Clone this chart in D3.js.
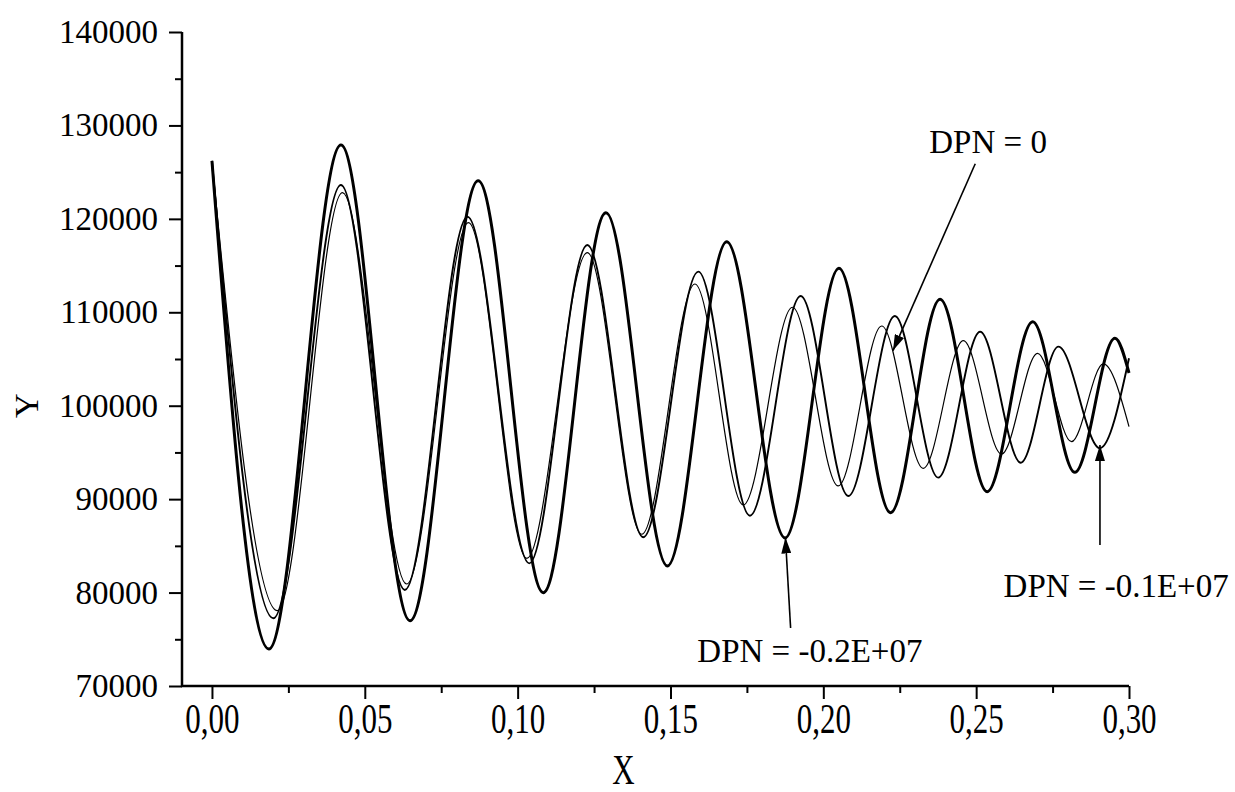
<!DOCTYPE html>
<html>
<head>
<meta charset="utf-8">
<script src="https://cdn.jsdelivr.net/npm/d3@7"></script>
<style>
  body { margin: 0; background: #fff; }
  text { font-family: "Liberation Serif", "Times New Roman", serif; fill: #000; }
</style>
</head>
<body>
<div id="chart"></div>
<script>
// curve extrema (x, y)
var dpn0X = [0, 0.0214, 0.0427, 0.0637, 0.0839, 0.1030, 0.1228, 0.1406, 0.1580, 0.1738, 0.1899, 0.2049, 0.2191, 0.2327, 0.2458, 0.2583, 0.2701, 0.2812, 0.2916, 0.30];
var dpn0Y = [126200, 78060, 122800, 80920, 119590, 83670, 116380, 86240, 113030, 89380, 110540, 91410, 108530, 93300, 106960, 94830, 105610, 96150, 104470, 97760];

var dpn1X = [0, 0.0201, 0.0422, 0.0631, 0.0836, 0.1038, 0.1228, 0.1411, 0.1591, 0.1760, 0.1926, 0.2082, 0.2234, 0.2376, 0.2513, 0.2646, 0.2769, 0.2905, 0.30];
var dpn1Y = [126200, 77250, 123620, 80280, 120230, 83130, 117200, 85920, 114350, 88230, 111740, 90340, 109600, 92300, 107920, 93900, 106320, 95450, 105080];

var dpn2X = [0, 0.0186, 0.0422, 0.0648, 0.0871, 0.1084, 0.1289, 0.1490, 0.1684, 0.1875, 0.2051, 0.2220, 0.2382, 0.2536, 0.2685, 0.2823, 0.2954, 0.30];
var dpn2Y = [126200, 73960, 127900, 76990, 124090, 79990, 120660, 82850, 117560, 85850, 114710, 88550, 111390, 90800, 108990, 92870, 107220, 103500];

var xTicks = [0, 0.05, 0.10, 0.15, 0.20, 0.25, 0.30];
var xTickLabels = ["0,00", "0,05", "0,10", "0,15", "0,20", "0,25", "0,30"];
var xMinorTicks = [0.025, 0.075, 0.125, 0.175, 0.225, 0.275];
var yTicks = [70000, 80000, 90000, 100000, 110000, 120000, 130000, 140000];
var yMinorTicks = [75000, 85000, 95000, 105000, 115000, 125000, 135000];

// labels: text anchor (x, baseline y), arrow start and tip, all in data units
var labelTexts = ["DPN = 0", "DPN = -0.2E+07", "DPN = -0.1E+07"];
var labelX = [0.2539, 0.1956, 0.2958];
var labelY = [127100, 72570, 79530];
var arrowFromX = [0.2497, 0.1893, 0.2905];
var arrowFromY = [125900, 76200, 85100];
var arrowToX = [0.2228, 0.1876, 0.2905];
var arrowToY = [105900, 85900, 95800];

var width = 1235,
    height = 792;

var svg = d3.select("#chart")
            .append("svg")
              .attr("width", width)
              .attr("height", height);

var x = d3.scaleLinear()
          .domain([-0.0098, 0.30])
          .range([182, 1129]);

var y = d3.scaleLinear()
          .domain([70000, 140000])
          .range([686, 32]);

// x axis
var xAxis = d3.axisBottom(x)
    .tickValues(xTicks)
    .tickSize(13)
    .tickPadding(4)
    .tickFormat(function(d, i) { return xTickLabels[i]; });

var gx = svg.append("g")
    .attr("transform", "translate(0,686)")
    .call(xAxis);

gx.select(".domain").attr("stroke-width", 2.5).attr("d", "M181,0H1129");
gx.selectAll(".tick line").attr("stroke-width", 2);
gx.selectAll(".tick text")
    .attr("y", 0)
    .attr("dy", null)
    .style("font-size", "31px")
    .attr("transform", "translate(0,47) scale(1,1.38)");

svg.append("g")
    .attr("transform", "translate(0,686)")
    .call(d3.axisBottom(x).tickValues(xMinorTicks).tickSize(7).tickFormat(""))
    .call(function(g) { g.select(".domain").remove(); })
    .selectAll(".tick line").attr("stroke-width", 2);

// y axis
var yAxis = d3.axisLeft(y)
    .tickValues(yTicks)
    .tickSize(13)
    .tickPadding(11)
    .tickFormat(d3.format("d"));

var gy = svg.append("g")
    .attr("transform", "translate(182,0)")
    .call(yAxis);

gy.select(".domain").attr("stroke-width", 2.5).attr("d", "M0,32V687");
gy.selectAll(".tick line").attr("stroke-width", 2);
gy.selectAll(".tick text").style("font-size", "33px");

svg.append("g")
    .attr("transform", "translate(182,0)")
    .call(d3.axisLeft(y).tickValues(yMinorTicks).tickSize(7).tickFormat(""))
    .call(function(g) { g.select(".domain").remove(); })
    .selectAll(".tick line").attr("stroke-width", 2);

// axis titles
svg.append("text")
    .attr("text-anchor", "middle")
    .attr("transform", "translate(" + x(0.1346) + ",784) scale(1,1.35)")
    .style("font-size", "31px")
    .text("X");

svg.append("text")
    .attr("text-anchor", "middle")
    .attr("transform", "translate(38," + y(100000) + ") rotate(-90)")
    .style("font-size", "34px")
    .text("Y");

// curves
var line = d3.line()
    .x(function(d) { return x(d[0]); })
    .y(function(d) { return y(d[1]); })
    .curve(d3.curveMonotoneX);

var series = [
    { xs: dpn0X, ys: dpn0Y, w: 1.2 },
    { xs: dpn1X, ys: dpn1Y, w: 1.9 },
    { xs: dpn2X, ys: dpn2Y, w: 3 }
];

svg.selectAll("path.curve")
    .data(series)
    .enter()
    .append("path")
      .attr("class", "curve")
      .attr("fill", "none")
      .attr("stroke", "#000")
      .attr("stroke-width", function(d) { return d.w; })
      .attr("d", function(d) { return line(d.xs.map(function(v, i) { return [v, d.ys[i]]; })); });

// arrows and labels
svg.append("defs").append("marker")
    .attr("id", "head")
    .attr("markerUnits", "userSpaceOnUse")
    .attr("viewBox", "0 0 16 10")
    .attr("refX", 16)
    .attr("refY", 5)
    .attr("markerWidth", 16)
    .attr("markerHeight", 10)
    .attr("orient", "auto")
  .append("path")
    .attr("d", "M0,0L16,5L0,10Z")
    .attr("fill", "#000");

svg.selectAll("line.arrow")
    .data(labelTexts)
    .enter()
    .append("line")
      .attr("class", "arrow")
      .attr("x1", function(d, i) { return x(arrowFromX[i]); })
      .attr("y1", function(d, i) { return y(arrowFromY[i]); })
      .attr("x2", function(d, i) { return x(arrowToX[i]); })
      .attr("y2", function(d, i) { return y(arrowToY[i]); })
      .attr("stroke", "#000")
      .attr("stroke-width", 1.6)
      .attr("marker-end", "url(#head)");

svg.selectAll("text.label")
    .data(labelTexts)
    .enter()
    .append("text")
      .attr("class", "label")
      .attr("text-anchor", "middle")
      .attr("x", function(d, i) { return x(labelX[i]); })
      .attr("y", function(d, i) { return y(labelY[i]); })
      .style("font-size", "33px")
      .text(function(d) { return d; });
</script>
</body>
</html>
